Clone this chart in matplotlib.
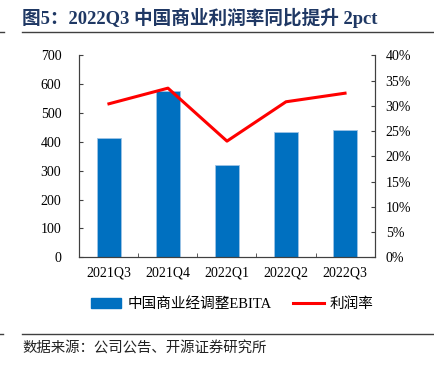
import matplotlib
matplotlib.use("Agg")
import matplotlib.pyplot as plt
from matplotlib.lines import Line2D
from matplotlib.patches import Patch
import numpy as np

plt.rcParams['font.family'] = ['Liberation Serif', 'Noto Sans CJK SC']
plt.rcParams['axes.unicode_minus'] = False

quarters = ['2021Q3', '2021Q4', '2022Q1', '2022Q2', '2022Q3']
ebita = [412, 577, 321, 435, 440]           # 中国商业经调整EBITA
margin = [30.4, 33.5, 23.0, 30.8, 32.5]      # 利润率 (%)

bar_color = '#0070C0'
spine_color = '#404040'

fig = plt.figure(figsize=(4.34, 3.69), dpi=100)
ax = fig.add_axes([0.183, 0.303, 0.680, 0.547])
ax2 = ax.twinx()

x = np.arange(len(quarters))
ax.bar(x, ebita, width=0.4, color=bar_color, edgecolor='#9DC3E6', linewidth=0.6, zorder=2)
ax2.plot(x, margin, color='#FF0000', linewidth=2.2, zorder=3)

ax.set_xlim(-0.5, 4.5)
ax.set_ylim(0, 700)
ax.set_yticks(np.arange(0, 701, 100))
ax2.set_ylim(0, 40)
ax2.set_yticks(np.arange(0, 41, 5))
ax2.set_yticklabels([f'{v}%' for v in range(0, 41, 5)])

ax.set_xticks(x)
ax.set_xticklabels(quarters)
ax.set_xticks(np.arange(0.5, 4.0, 1.0), minor=True)
ax.tick_params(axis='x', which='major', length=0, pad=7, labelsize=10)
ax.tick_params(axis='x', which='minor', direction='in', length=3, color=spine_color)
ax.tick_params(axis='y', direction='in', length=3, pad=13, labelsize=10, color=spine_color)
ax2.tick_params(axis='y', direction='in', length=3, pad=8, labelsize=10, color=spine_color)

for a in (ax, ax2):
    a.spines['top'].set_visible(False)
    for s in ('left', 'right', 'bottom'):
        a.spines[s].set_color(spine_color)
        a.spines[s].set_linewidth(0.8)

handles = [Patch(facecolor=bar_color, edgecolor=bar_color),
           Line2D([0], [0], color='#FF0000', linewidth=2.2)]
fig.legend(handles, ['中国商业经调整EBITA', '利润率'], loc='center',
           bbox_to_anchor=(0.535, 1 - 304 / 369), ncol=2, frameon=False,
           fontsize=10.5, handlelength=2.1, handletextpad=0.4, columnspacing=1.5)

fig.text(22 / 434, 1 - 18 / 369, '图5：2022Q3 中国商业利润率同比提升 2pct',
         fontsize=13.4, fontweight='bold', color='#1F3864', va='center', ha='left')
fig.add_artist(Line2D([22 / 434, 1], [1 - 32 / 369] * 2, color='#404040', linewidth=1))
fig.add_artist(Line2D([0, 4 / 434], [1 - 32 / 369] * 2, color='#404040', linewidth=1))
fig.add_artist(Line2D([22 / 434, 1], [1 - 334 / 369] * 2, color='#404040', linewidth=1))
fig.add_artist(Line2D([0, 3 / 434], [1 - 334 / 369] * 2, color='#404040', linewidth=1))
fig.text(22 / 434, 1 - 348 / 369, '数据来源：公司公告、开源证券研究所',
         fontsize=10.4, color='#222222', va='center', ha='left')

fig.savefig('out.png', dpi=100)
